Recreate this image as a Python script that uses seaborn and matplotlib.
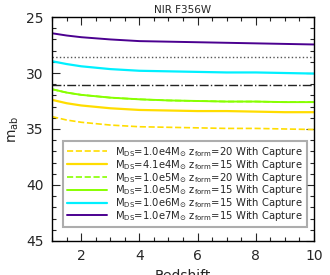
import matplotlib
matplotlib.use('Agg')
import matplotlib.pyplot as plt
import seaborn as sns
from matplotlib.ticker import MultipleLocator

sns.set_style('ticks')
plt.rcParams['font.family'] = ['DejaVu Sans']
plt.rcParams['mathtext.fontset'] = 'dejavusans'

# redshift grid
redshift = [1.0, 1.5, 2.0, 3.0, 4.0, 5.0, 6.0, 7.0, 8.0, 9.0, 10.0]

m_1e4_z20 = [33.9, 34.2, 34.4, 34.65, 34.8, 34.85, 34.9, 34.95, 34.95, 35.0, 35.05]
m_4e4_z15 = [32.4, 32.7, 32.9, 33.15, 33.3, 33.35, 33.4, 33.4, 33.45, 33.5, 33.5]
m_1e5_z20 = [31.45, 31.75, 31.95, 32.2, 32.35, 32.45, 32.5, 32.55, 32.55, 32.6, 32.6]
m_1e5_z15 = [31.45, 31.75, 31.95, 32.2, 32.35, 32.45, 32.5, 32.55, 32.55, 32.6, 32.6]
m_1e6_z15 = [28.95, 29.2, 29.4, 29.65, 29.8, 29.85, 29.9, 29.95, 29.95, 30.0, 30.05]
m_1e7_z15 = [26.45, 26.65, 26.8, 27.0, 27.15, 27.2, 27.25, 27.3, 27.35, 27.4, 27.45]

# detection limits (horizontal reference lines)
limit_dotted = 28.55
limit_dashdot = 31.1

labels = [
    r'M$_{\rm DS}$=1.0e4M$_{\odot}$ z$_{\rm form}$=20 With Capture',
    r'M$_{\rm DS}$=4.1e4M$_{\odot}$ z$_{\rm form}$=15 With Capture',
    r'M$_{\rm DS}$=1.0e5M$_{\odot}$ z$_{\rm form}$=20 With Capture',
    r'M$_{\rm DS}$=1.0e5M$_{\odot}$ z$_{\rm form}$=15 With Capture',
    r'M$_{\rm DS}$=1.0e6M$_{\odot}$ z$_{\rm form}$=15 With Capture',
    r'M$_{\rm DS}$=1.0e7M$_{\odot}$ z$_{\rm form}$=15 With Capture',
]
series = [m_1e4_z20, m_4e4_z15, m_1e5_z20, m_1e5_z15, m_1e6_z15, m_1e7_z15]
colors = ['#ffdd00', '#ffdd00', '#88ff00', '#88ff00', '#00f0ff', '#4b0090']
styles = ['--', '-', '--', '-', '-', '-']
widths = [1.2, 1.6, 1.2, 1.4, 1.6, 1.4]

fig = plt.figure(figsize=(3.3, 2.75), dpi=100)
ax = fig.add_axes([0.158, 0.124, 0.793, 0.814])

ax.axhline(limit_dotted, color='#555555', ls=':', lw=1.0)
ax.axhline(limit_dashdot, color='#222222', ls='-.', lw=1.0)

for vals, lab, c, s, w in zip(series, labels, colors, styles, widths):
    sns.lineplot(x=redshift, y=vals, ax=ax, color=c, linestyle=s, lw=w, label=lab)

ax.set_xlim(1, 10)
ax.set_ylim(45, 25)
ax.xaxis.set_major_locator(MultipleLocator(2))
ax.xaxis.set_minor_locator(MultipleLocator(0.5))
ax.yaxis.set_major_locator(MultipleLocator(5))
ax.yaxis.set_minor_locator(MultipleLocator(1))
ax.tick_params(which='both', direction='in', top=True, right=True, labelsize=10)
ax.tick_params(which='major', length=6, width=0.8, pad=6)
ax.tick_params(which='minor', length=3, width=0.8)
for sp in ax.spines.values():
    sp.set_linewidth(1.0)
    sp.set_color('black')

ax.set_title('NIR F356W', fontsize=7.5, pad=3)
ax.set_xlabel('Redshift', fontsize=10, labelpad=4)
ax.set_ylabel(r'm$_{\rm ab}$', fontsize=10, labelpad=4)

leg = ax.legend(loc='lower right', bbox_to_anchor=(0.992, 0.04), fontsize=7.2,
                frameon=True, fancybox=False, handlelength=4.0, handletextpad=0.8,
                labelspacing=-0.12, borderpad=0.4)
leg.get_frame().set_edgecolor('#999999')
leg.get_frame().set_linewidth(1.5)

fig.savefig('out.png', dpi=100)
